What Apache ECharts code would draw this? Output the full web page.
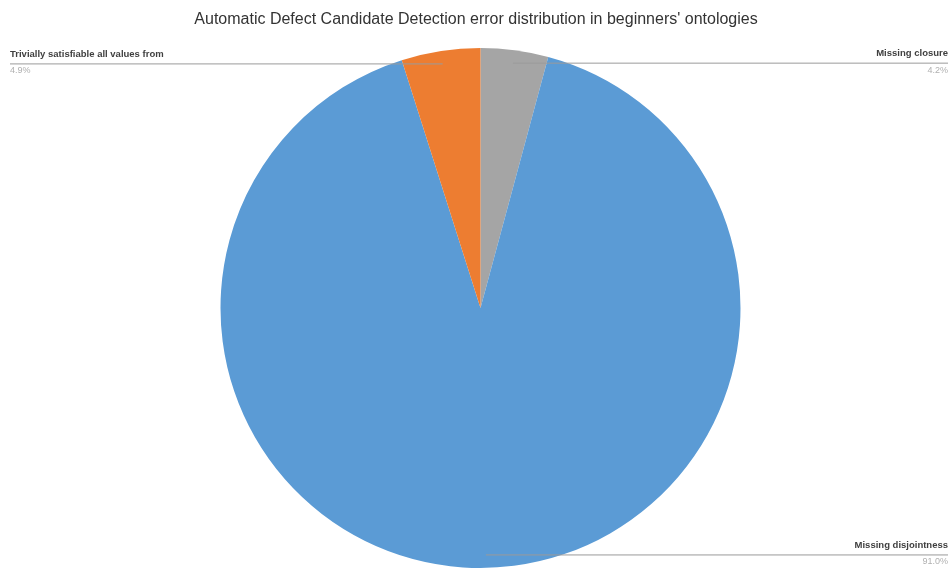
<!DOCTYPE html>
<html><head><meta charset="utf-8">
<script src="https://cdn.jsdelivr.net/npm/echarts@6/dist/echarts.min.js"></script>
<style>html,body{margin:0;padding:0;background:#fff}#c{width:952px;height:572px}</style>
</head><body><div id="c"></div>
<script>
const titleText = "Automatic Defect Candidate Detection error distribution in beginners' ontologies";
const categories = ["Missing closure", "Missing disjointness", "Trivially satisfiable all values from"];
const values = [4.2, 91.0, 4.9];
const colors = ["#A5A5A5", "#5B9BD5", "#ED7D31"];

const W = 952, H = 572;
const CX = 480.5, CY = 308, R = 260;
const chart = echarts.init(document.getElementById('c'), null, {renderer: 'canvas'});

const labelSide = ['right', 'right', 'left'];

const base = {
  type: 'pie',
  center: [CX, CY],
  radius: [0, R],
  startAngle: 90,
  clockwise: true
};

chart.setOption({
  animation: false,
  title: {
    text: titleText, left: 'center', top: 7, padding: [5, 0, 5, 7],
    textStyle: {fontFamily: 'Liberation Sans', fontSize: 16, fontWeight: 'normal', color: '#333333'}
  },
  series: [
    Object.assign({}, base, {
      z: 2,
      data: categories.map((c, i) => ({name: c, value: values[i], itemStyle: {color: colors[i]}})),
      label: {show: false},
      labelLine: {show: false}
    }),
    Object.assign({}, base, {
      z: 5,
      silent: true,
      data: categories.map((c, i) => ({name: c, value: values[i]})),
      itemStyle: {color: 'rgba(0,0,0,0)'},
      label: {
        show: true, position: 'outside',
        formatter: p => '{n|' + p.name + '}\n{p|' + p.value.toFixed(1) + '%}',
        rich: {
          n: {fontFamily: 'Liberation Sans', fontSize: 9.5, fontWeight: 'bold', color: '#404040', lineHeight: 17},
          p: {fontFamily: 'Liberation Sans', fontSize: 9, color: '#b0b0b0', lineHeight: 17}
        }
      },
      labelLine: {show: true, length: 5, length2: 5, lineStyle: {color: '#9a9a9a', width: 1}},
      labelLayout: function (params) {
        const i = params.dataIndex;
        const p0 = params.labelLinePoints[0];
        const ax = CX + 0.95 * (p0[0] - CX);
        const ay = CY + 0.95 * (p0[1] - CY);
        const side = labelSide[i];
        const ex = side === 'left' ? 10 : W - 4;
        return {
          x: ex, y: ay - 1.5,
          align: side === 'left' ? 'left' : 'right',
          verticalAlign: 'middle',
          labelLinePoints: [[ax, ay], [ax, ay], [ex, ay]]
        };
      }
    })
  ]
});
</script></body></html>
